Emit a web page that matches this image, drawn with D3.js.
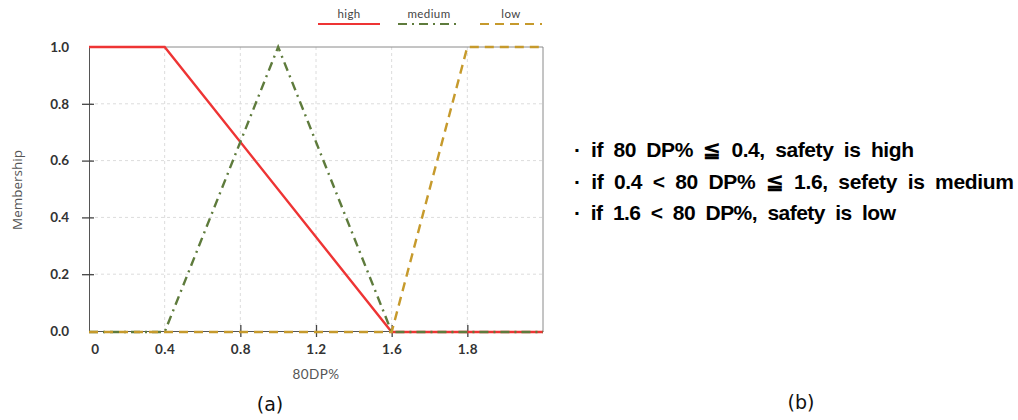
<!DOCTYPE html>
<html>
<head>
<meta charset="utf-8">
<script src="https://cdn.jsdelivr.net/npm/d3@7"></script>
<style>
  body { margin: 0; background: #fff; }
  svg { display: block; }
</style>
</head>
<body>
<svg id="chart" width="1018" height="420"></svg>
<script>
// Membership functions for 80DP% (breakpoints of each fuzzy set)
const xTicks = [0, 0.4, 0.8, 1.2, 1.6, 1.8];
const xTickLabels = ["0", "0.4", "0.8", "1.2", "1.6", "1.8"];
const xEnd = 2.0;
const yTicks = [0, 0.2, 0.4, 0.6, 0.8, 1.0];

const highX = [0, 0.4, 1.6, 2.0];
const highY = [1, 1, 0, 0];
const mediumX = [0, 0.4, 1.0, 1.6, 2.0];
const mediumY = [0, 0, 1, 0, 0];
const lowX = [0, 1.6, 1.8, 2.0];
const lowY = [0, 0, 1, 1];

const seriesNames = ["high", "medium", "low"];
const rules = [
  "· if 80 DP% \u2266 0.4, safety is high",
  "· if 0.4 < 80 DP% \u2266 1.6, sefety is medium",
  "· if 1.6 < 80 DP%, safety is low"
];

const svg = d3.select("#chart");
const plot = { left: 89, right: 543, top: 47, bottom: 331 };

// Each tick interval gets equal width on the axis
const xDomain = xTicks.concat([xEnd]);
const step = (plot.right - plot.left) / (xDomain.length - 1);
const x = d3.scaleLinear()
  .domain(xDomain)
  .range(xDomain.map((d, i) => plot.left + i * step));
const y = d3.scaleLinear().domain([0, 1]).range([plot.bottom, plot.top]);

// Grid
const grid = svg.append("g");
grid.selectAll(".vg").data(xTicks.slice(1)).join("line")
  .attr("x1", d => x(d)).attr("x2", d => x(d))
  .attr("y1", plot.top).attr("y2", plot.bottom)
  .attr("stroke", "#dcdcdc").attr("stroke-dasharray", "3,3");
grid.selectAll(".hg").data(yTicks.slice(1, -1)).join("line")
  .attr("x1", plot.left).attr("x2", plot.right)
  .attr("y1", d => y(d)).attr("y2", d => y(d))
  .attr("stroke", "#dcdcdc").attr("stroke-dasharray", "3,3");

// Frame
svg.append("line").attr("x1", plot.left).attr("x2", plot.right)
  .attr("y1", plot.top).attr("y2", plot.top).attr("stroke", "#8a8a8a");
svg.append("line").attr("x1", plot.right).attr("x2", plot.right)
  .attr("y1", plot.top).attr("y2", plot.bottom).attr("stroke", "#8a8a8a");

// Y axis
const yAxis = d3.axisLeft(y).tickValues(yTicks).tickFormat(d3.format(".1f"))
  .tickSize(0).tickPadding(20);
const gy = svg.append("g").attr("transform", `translate(${plot.left},0)`).call(yAxis);
gy.select(".domain").attr("stroke", "#555");
gy.selectAll("text").attr("font-family", "Lato, 'Open Sans', sans-serif")
  .attr("font-weight", "bold").attr("font-size", 13.5).attr("fill", "#333");
gy.selectAll(".tick").filter(d => d > 0 && d < 1).append("line")
  .attr("x1", -7).attr("x2", 5).attr("stroke", "#444").attr("stroke-width", 1.3);

// X axis
const xAxis = d3.axisBottom(x).tickValues(xTicks)
  .tickFormat((d, i) => xTickLabels[i]).tickSize(0).tickPadding(13);
const gx = svg.append("g").attr("transform", `translate(0,${plot.bottom})`).call(xAxis);
gx.select(".domain").attr("stroke", "#555");
gx.selectAll("text").attr("font-family", "Lato, 'Open Sans', sans-serif")
  .attr("font-weight", "bold").attr("font-size", 13.5).attr("fill", "#333")
  .attr("letter-spacing", 0.5);
gx.selectAll(".tick").filter(d => d === 0).select("text").attr("dx", 6);
gx.selectAll(".tick").filter(d => d >= 0.8).append("line")
  .attr("y1", -6).attr("y2", 6).attr("stroke", "#444").attr("stroke-width", 1.3);

// Axis titles
svg.append("text").attr("x", x(1.2)).attr("y", 379).attr("text-anchor", "middle")
  .attr("font-family", "Lato, sans-serif").attr("font-size", 13.5).attr("fill", "#555")
  .attr("letter-spacing", 0.4).text("80DP%");
svg.append("text").attr("transform", "translate(22,190) rotate(-90)")
  .attr("text-anchor", "middle").attr("font-family", "'Liberation Sans Narrow', 'Open Sans', sans-serif")
  .attr("font-size", 13.5).attr("fill", "#555").text("Membership");

// Series
const styles = {
  high: { color: "#ee3434", dash: null },
  medium: { color: "#5e7b3c", dash: "9,5,2,5" },
  low: { color: "#c69a2c", dash: "9,6" }
};
const seriesData = {
  high: highX.map((v, i) => [v, highY[i]]),
  medium: mediumX.map((v, i) => [v, mediumY[i]]),
  low: lowX.map((v, i) => [v, lowY[i]])
};
const line = d3.line().x(d => x(d[0])).y(d => y(d[1]) + (d[1] === 0 ? 1 : 0));
seriesNames.forEach(name => {
  svg.append("path").datum(seriesData[name])
    .attr("d", line).attr("fill", "none")
    .attr("stroke", styles[name].color).attr("stroke-width", 2.4)
    .attr("stroke-dasharray", styles[name].dash);
});

// Legend
const legendCenters = [349, 429, 511];
const legend = svg.append("g");
seriesNames.forEach((name, i) => {
  const cx = legendCenters[i];
  legend.append("text").attr("x", cx).attr("y", 18).attr("text-anchor", "middle")
    .attr("font-family", "Lato, sans-serif").attr("font-size", 11.5).attr("fill", "#444")
    .attr("letter-spacing", 0.4).text(name);
  legend.append("line").attr("x1", cx - 31).attr("x2", cx + 31)
    .attr("y1", 24).attr("y2", 24)
    .attr("stroke", styles[name].color).attr("stroke-width", 2)
    .attr("stroke-dasharray", styles[name].dash);
});

// Panel labels
svg.append("text").attr("x", 270).attr("y", 411).attr("text-anchor", "middle")
  .attr("font-family", "'DejaVu Sans', sans-serif").attr("font-size", 19).attr("fill", "#111")
  .text("(a)");
svg.append("text").attr("x", 801).attr("y", 409).attr("text-anchor", "middle")
  .attr("font-family", "'DejaVu Sans', sans-serif").attr("font-size", 19).attr("fill", "#111")
  .text("(b)");

// Rule list
const ruleWidths = [340, 440, 322];
svg.selectAll(".rule").data(rules).join("text")
  .attr("x", 574).attr("y", (d, i) => 157 + i * 31.5)
  .attr("font-family", "'Liberation Sans Narrow', 'Liberation Sans', sans-serif")
  .attr("font-weight", "bold").attr("font-size", 21).attr("fill", "#000")
  .attr("word-spacing", 5)
  .attr("textLength", (d, i) => ruleWidths[i]).attr("lengthAdjust", "spacing")
  .text(d => d);
</script>
</body>
</html>
